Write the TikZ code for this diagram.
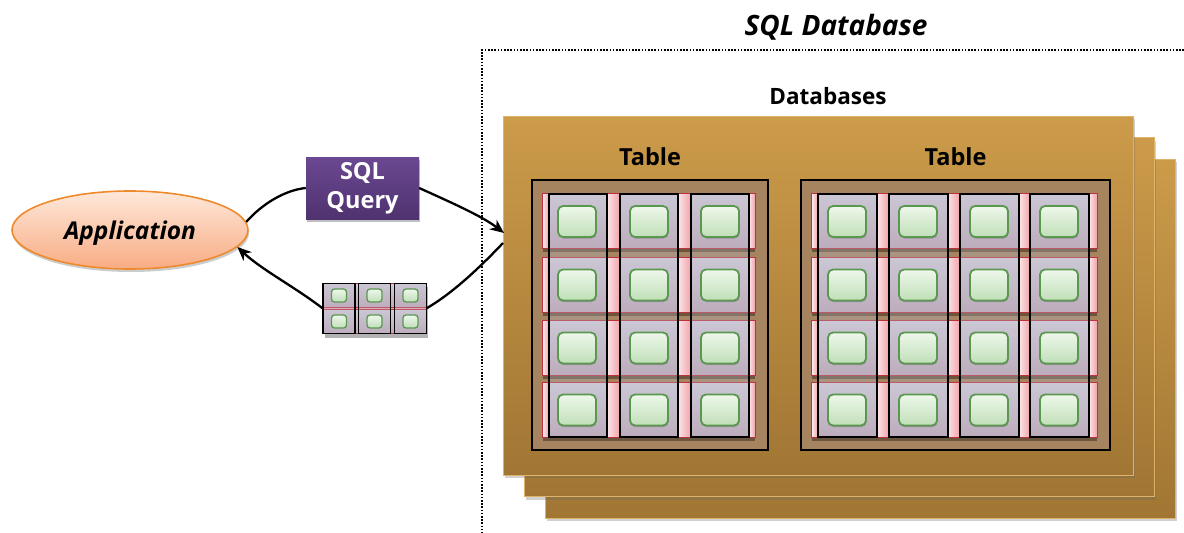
\documentclass[tikz,border=0pt]{standalone}
\usepackage{fontspec}
\setmainfont{Open Sans}
\usetikzlibrary{arrows.meta,shapes.geometric,shadows}
\definecolor{goldT}{HTML}{CC9B4A}
\definecolor{goldB}{HTML}{A17634}
\definecolor{goldE}{HTML}{DDB46A}
\definecolor{tblbg}{HTML}{A5845F}
\definecolor{pinkL}{HTML}{FCE6E8}
\definecolor{pinkR}{HTML}{EFA2AA}
\definecolor{rowT}{HTML}{D4CCD8}
\definecolor{rowB}{HTML}{C0A7B5}
\definecolor{redE}{HTML}{C0303E}
\definecolor{colF}{HTML}{B8BCCE}
\definecolor{grT}{HTML}{EEF7EB}
\definecolor{grB}{HTML}{C0DFB8}
\definecolor{grE}{HTML}{5A9850}
\definecolor{appT}{HTML}{FEE8DA}
\definecolor{appB}{HTML}{F8AC84}
\definecolor{appE}{HTML}{EE8A2C}
\definecolor{qT}{HTML}{6B4892}
\definecolor{qB}{HTML}{4F326F}
\tikzset{
 page/.style={draw=goldE, line width=1pt, top color=goldT, bottom color=goldB,
   minimum width=630pt, minimum height=359pt, inner sep=0pt,
   drop shadow={shadow xshift=2pt, shadow yshift=-3pt, opacity=0.3, fill=black!60}},
 tbl/.style={draw=black, line width=1.5pt, fill=tblbg, inner sep=0pt, minimum height=270pt},
 rowbox/.style={top color=rowT, bottom color=rowB, inner sep=0pt, minimum height=54pt,
   drop shadow={shadow xshift=0pt, shadow yshift=-4pt, opacity=0.35, fill=black}},
 gapbox/.style={left color=pinkL, right color=pinkR, inner sep=0pt, minimum height=54pt},
 colbox/.style={draw=black, line width=1.6pt, fill=colF, fill opacity=0.3, inner sep=0pt,
   minimum width=58pt, minimum height=243pt},
 cellbox/.style={draw=grE, line width=1.8pt, rounded corners=5pt, top color=grT, bottom color=grB,
   minimum width=38pt, minimum height=31pt, inner sep=0pt,
   drop shadow={shadow xshift=0.5pt, shadow yshift=-1.5pt, opacity=0.2, fill=black}},
 srow/.style={top color=rowT, bottom color=rowB, draw=redE, line width=0.8pt, inner sep=0pt, minimum width=103pt, minimum height=24pt},
 scol/.style={draw=black, line width=1.3pt, fill=colF, fill opacity=0.3, inner sep=0pt,
   minimum width=32pt, minimum height=50pt},
 scell/.style={draw=grE, line width=1.3pt, rounded corners=3pt, top color=grT, bottom color=grB,
   minimum width=15pt, minimum height=13pt, inner sep=0pt},
 lbl/.style={font=\bfseries\fontsize{23.5}{26}\selectfont, inner sep=0pt},
 wire/.style={line width=2.3pt},
 conn/.style={line width=2.3pt, -{Stealth[length=14pt,width=12pt,inset=4.5pt]}},
}
\begin{document}
\begin{tikzpicture}[x=1pt,y=-1pt]
\useasboundingbox (0,0) rectangle (1184,533);
% outer dotted frame
\draw[line width=1.7pt, dash pattern=on 1.6pt off 1.6pt] (1184,50) -- (482,50) -- (482,533);
\node[font=\bfseries\itshape\fontsize{28}{32}\selectfont, anchor=base, inner sep=0pt] (title) at (836,35) {SQL Database};
\node[lbl, font=\bfseries\fontsize{22.5}{26}\selectfont, anchor=base] (dbs) at (828,104) {Databases};
% database pages
\node[page] (db3) at (860,338.5) {};
\node[page] (db2) at (839,317) {};
\node[page] (db1) at (818,295.5) {};
% tables
\node[lbl, anchor=base] (tA) at (650,165) {Table};
\node[lbl, anchor=base] (tB) at (955.5,165) {Table};
\node[tbl, minimum width=236pt] (tblA) at (650,315) {};
\node[tbl, minimum width=309pt] (tblB) at (955.5,315) {};
% rows
\foreach \r/\y in {1/221,2/285,3/348,4/410}{
  \node[rowbox, minimum width=212pt] (rA\r) at (649,\y) {};
  \node[rowbox, minimum width=285pt] (rB\r) at (954.5,\y) {};
  \foreach \g/\gx/\gw in {1/546/6,2/613.5/13,3/684.5/13,4/752/6}{
    \node[gapbox, minimum width=\gw pt] (gA\r\g) at (\gx,\y) {};}
  \foreach \g/\gx/\gw in {1/815/6,2/883/12,3/953.5/13,4/1024.5/11,5/1093/8}{
    \node[gapbox, minimum width=\gw pt] (gB\r\g) at (\gx,\y) {};}
  \draw[redE, line width=1.3pt] (rA\r.north west) rectangle (rA\r.south east);
  \draw[redE, line width=1.3pt] (rB\r.north west) rectangle (rB\r.south east);
}
% columns
\foreach \c/\x in {1/578,2/649,3/720}{
  \node[colbox] (cA\c) at (\x,315.5) {};}
\foreach \c/\x in {1/847.5,2/918.5,3/989.5,4/1059.5}{
  \node[colbox, minimum width=59pt] (cB\c) at (\x,315.5) {};}
% cells
\foreach \r/\y in {1/221.5,2/285,3/348,4/410}{
  \foreach \c/\x in {1/577,2/649,3/720}{
    \node[cellbox] (eA\r\c) at (\x,\y) {};}
  \foreach \c/\x in {1/847,2/918,3/989,4/1059}{
    \node[cellbox] (eB\r\c) at (\x,\y) {};}
}
% application
\node[ellipse, draw=appE, line width=1.6pt, top color=appT, bottom color=appB,
  minimum width=236pt, minimum height=78pt, inner sep=0pt, text depth=0pt,
  font=\bfseries\itshape\fontsize{24.5}{28}\selectfont,
  drop shadow={shadow xshift=1pt, shadow yshift=-3pt, opacity=0.2, fill=black}] (app) at (130,230) {Application};
% query
\node[top color=qT, bottom color=qB, minimum width=113pt, minimum height=62pt, inner sep=0pt,
  align=center, text=white, font=\bfseries\fontsize{23.5}{29}\selectfont,
  drop shadow={shadow xshift=1pt, shadow yshift=-3pt, opacity=0.25, fill=black}] (query) at (362.5,188) {SQL\\Query};
% result
\node[fill=pinkR, inner sep=0pt, minimum width=103pt, minimum height=51pt,
  drop shadow={shadow xshift=2pt, shadow yshift=-4pt, opacity=0.3, fill=black}] (res) at (374.5,308.5) {};
\node[srow] (s1) at (374.5,295.5) {};
\node[srow] (s2) at (374.5,321.5) {};
\foreach \c/\x in {1/339,2/374.5,3/410.5}{
  \node[scol] (sc\c) at (\x,308.5) {};
  \node[scell] (su\c) at (\x,295.5) {};
  \node[scell] (sd\c) at (\x,321.5) {};
}
% connectors
\coordinate (inq) at (504,233);
\coordinate (outq) at (503,243);
\draw[wire] (app.4) .. controls (262,204) and (285,190) .. (query.west);
\draw[conn] (query.east) .. controls (450,202) and (482,216) .. (inq);
\draw[wire] (outq) .. controls (485,262) and (455,292) .. (res.east);
\draw[conn] (res.west) .. controls (295,287) and (262,270) .. (app.-9);
\end{tikzpicture}
\end{document}
